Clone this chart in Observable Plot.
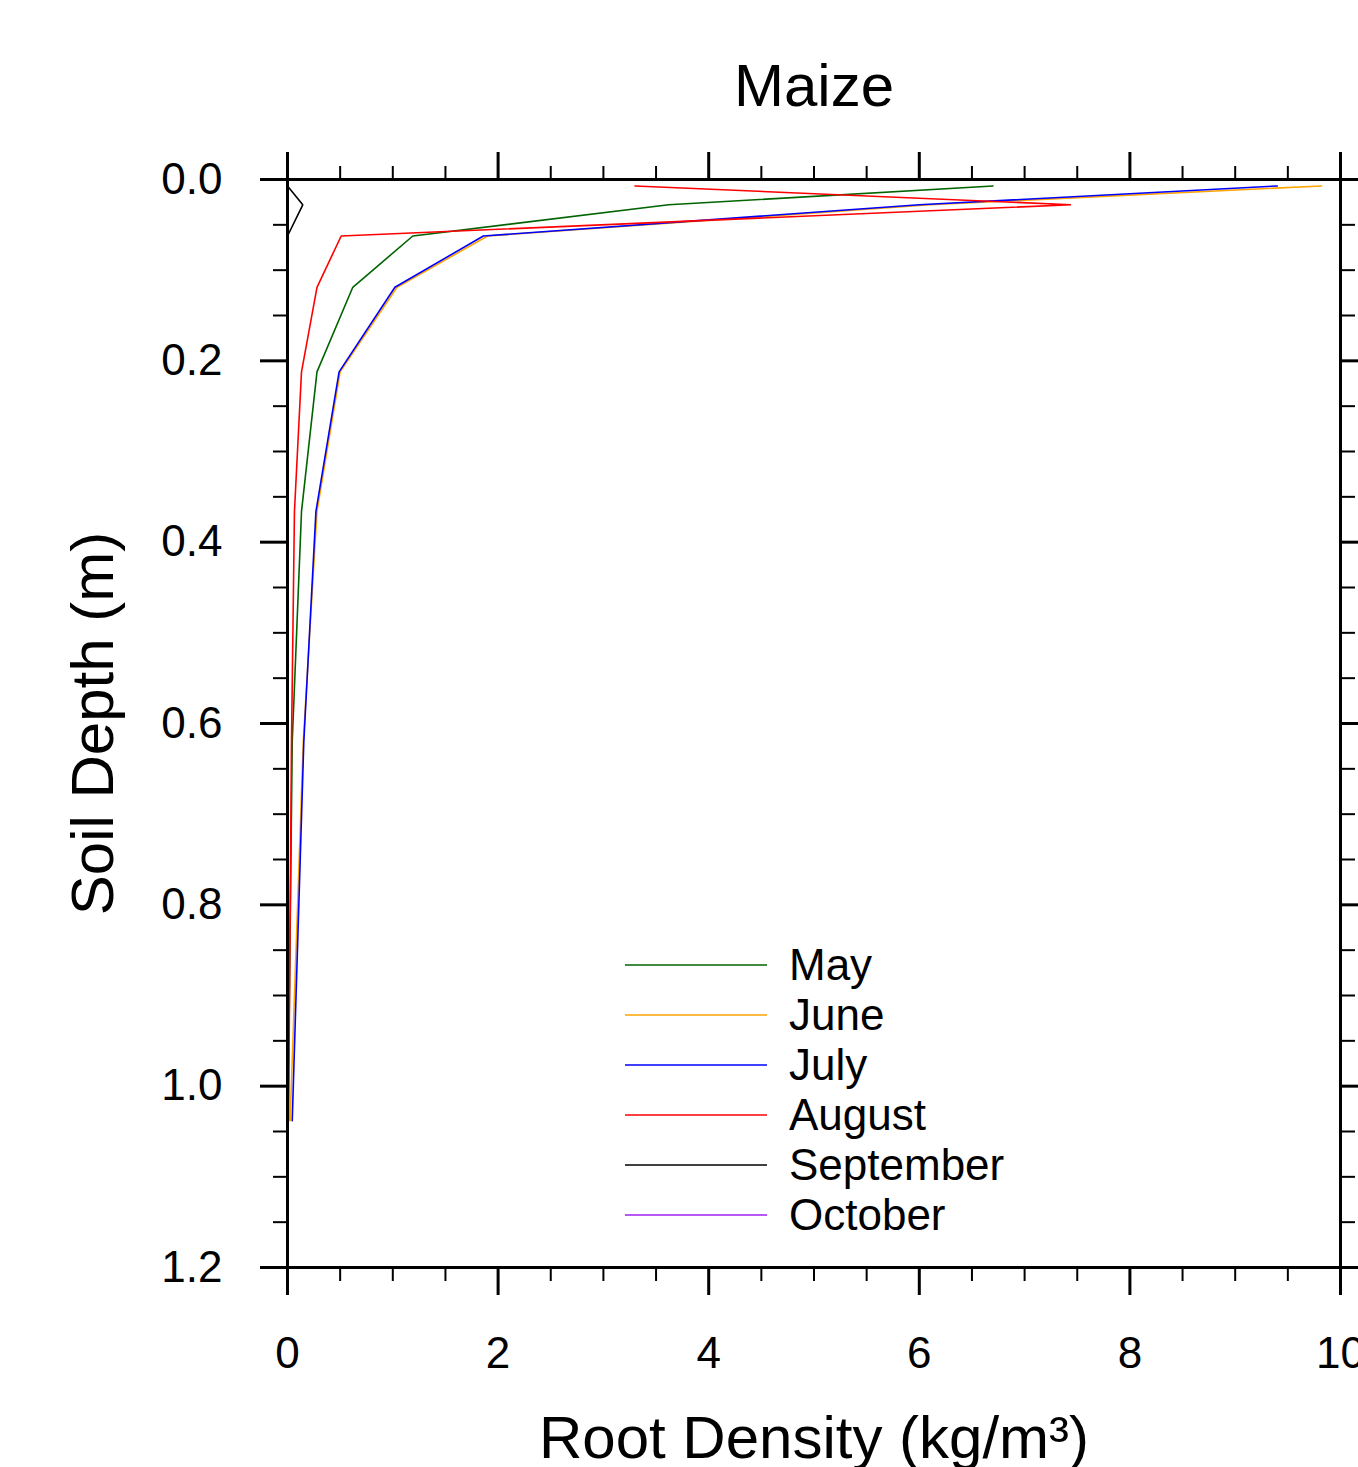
<!DOCTYPE html>
<html><head><meta charset="utf-8">
<script src="https://cdn.jsdelivr.net/npm/d3@7"></script>
<script src="https://cdn.jsdelivr.net/npm/@observablehq/plot@0.6"></script>
<style>
body{margin:0;background:#fff;}
#wrap{position:relative;width:1358px;height:1467px;overflow:hidden;font-family:"Liberation Sans",Arial,Helvetica,sans-serif;}
#legend{position:absolute;left:625px;top:940px;}
.row{display:flex;align-items:center;height:50px;}
.sw{display:block;margin-right:22px;}
.lab{font-size:44px;line-height:50px;color:#000;white-space:nowrap;}
</style></head><body><div id="wrap"></div>
<script>
// ---- data ----
const months = ["May", "June", "July", "August", "September", "October"];
const colors = ["#006400", "#ffa500", "#0000ff", "#ff0000", "#000000", "#a020f0"];
const depths = [0.0071, 0.0279, 0.0623, 0.1189, 0.2122, 0.3661, 0.6198, 1.0380];
const may       = [6.70, 3.62, 1.19, 0.62, 0.28, 0.133, 0.045, 0.005];
const june      = [9.82, 6.10, 1.90, 1.04, 0.50, 0.28, 0.15, 0.025];
const july      = [9.40, 6.00, 1.86, 1.02, 0.49, 0.27, 0.155, 0.045];
const august    = [3.30, 7.44, 0.51, 0.28, 0.133, 0.066, 0.038, 0.01];
const september = [0.0, 0.145, 0.0, 0.0, 0.0, 0.0, 0.0, 0.0];
const october   = [0.0, 0.0, 0.0, 0.0, 0.0, 0.0, 0.0, 0.0];
const series = [may, june, july, august, september, october];
const xTicks = [0, 2, 4, 6, 8, 10];
const yTicks = [0.0, 0.2, 0.4, 0.6, 0.8, 1.0, 1.2];
const title = "Maize";
const xLabel = "Root Density (kg/m³)";
const yLabel = "Soil Depth (m)";

const xMinor = d3.range(0, 10.001, 0.5).filter(v => Math.abs(v / 2 - Math.round(v / 2)) > 1e-6);
const yMinor = d3.range(0, 1.2001, 0.05).map(v => +v.toFixed(2)).filter(v => Math.abs(v * 5 - Math.round(v * 5)) > 1e-6);

const rows = [];
months.forEach((m, i) => series[i].forEach((v, j) => rows.push({month: m, value: v, depth: depths[j]})));

const font = "Liberation Sans, Arial, Helvetica, sans-serif";
const blank = () => "";

const plot = Plot.plot({
  width: 1358, height: 1467,
  marginLeft: 287, marginRight: 18, marginTop: 179, marginBottom: 200,
  style: {fontFamily: font, background: "#fff", color: "#000"},
  x: {domain: [0, 10]},
  y: {domain: [0, 1.2], reverse: true},
  color: {domain: months, range: colors},
  marks: [
    Plot.line(rows, {x: "value", y: "depth", z: "month", stroke: "month", strokeWidth: 1.6, strokeLinejoin: "miter"}),
    Plot.frame({stroke: "#000", strokeWidth: 3}),
    Plot.axisX(xTicks, {anchor: "bottom", tickSize: 28, tickPadding: 41, fontSize: 44, strokeWidth: 3, tickFormat: d => String(d), label: null}),
    Plot.axisX(xMinor, {anchor: "bottom", tickSize: 14, strokeWidth: 2, tickFormat: blank, label: null}),
    Plot.axisX(xTicks, {anchor: "top", tickSize: 28, strokeWidth: 3, tickFormat: blank, label: null}),
    Plot.axisX(xMinor, {anchor: "top", tickSize: 14, strokeWidth: 2, tickFormat: blank, label: null}),
    Plot.axisY(yTicks, {anchor: "left", tickSize: 27, tickPadding: 38, fontSize: 44, strokeWidth: 3, tickFormat: d3.format(".1f"), label: null}),
    Plot.axisY(yMinor, {anchor: "left", tickSize: 14, strokeWidth: 2, tickFormat: blank, label: null}),
    Plot.axisY(yTicks, {anchor: "right", tickSize: 27, strokeWidth: 3, tickFormat: blank, label: null}),
    Plot.axisY(yMinor, {anchor: "right", tickSize: 14, strokeWidth: 2, tickFormat: blank, label: null}),
    Plot.text([title], {frameAnchor: "top", lineAnchor: "middle", textAnchor: "middle", dy: -93, fontSize: 60}),
    Plot.text([xLabel], {frameAnchor: "bottom", lineAnchor: "middle", textAnchor: "middle", dy: 171, fontSize: 60}),
    Plot.text([yLabel], {frameAnchor: "left", lineAnchor: "middle", textAnchor: "middle", rotate: -90, dx: -194, fontSize: 60})
  ]
});

const wrap = document.getElementById("wrap");
wrap.appendChild(plot);

const svgNS = "http://www.w3.org/2000/svg";
const legend = document.createElement("div");
legend.id = "legend";
months.forEach((m, i) => {
  const row = document.createElement("div");
  row.className = "row";
  const sw = document.createElementNS(svgNS, "svg");
  sw.setAttribute("width", "142");
  sw.setAttribute("height", "4");
  sw.setAttribute("class", "sw");
  const ln = document.createElementNS(svgNS, "line");
  ln.setAttribute("x1", "0"); ln.setAttribute("x2", "142");
  ln.setAttribute("y1", "2"); ln.setAttribute("y2", "2");
  ln.setAttribute("stroke", colors[i]);
  ln.setAttribute("stroke-width", "1.6");
  sw.appendChild(ln);
  const lab = document.createElement("span");
  lab.className = "lab";
  lab.textContent = m;
  row.appendChild(sw);
  row.appendChild(lab);
  legend.appendChild(row);
});
wrap.appendChild(legend);
</script></body></html>
